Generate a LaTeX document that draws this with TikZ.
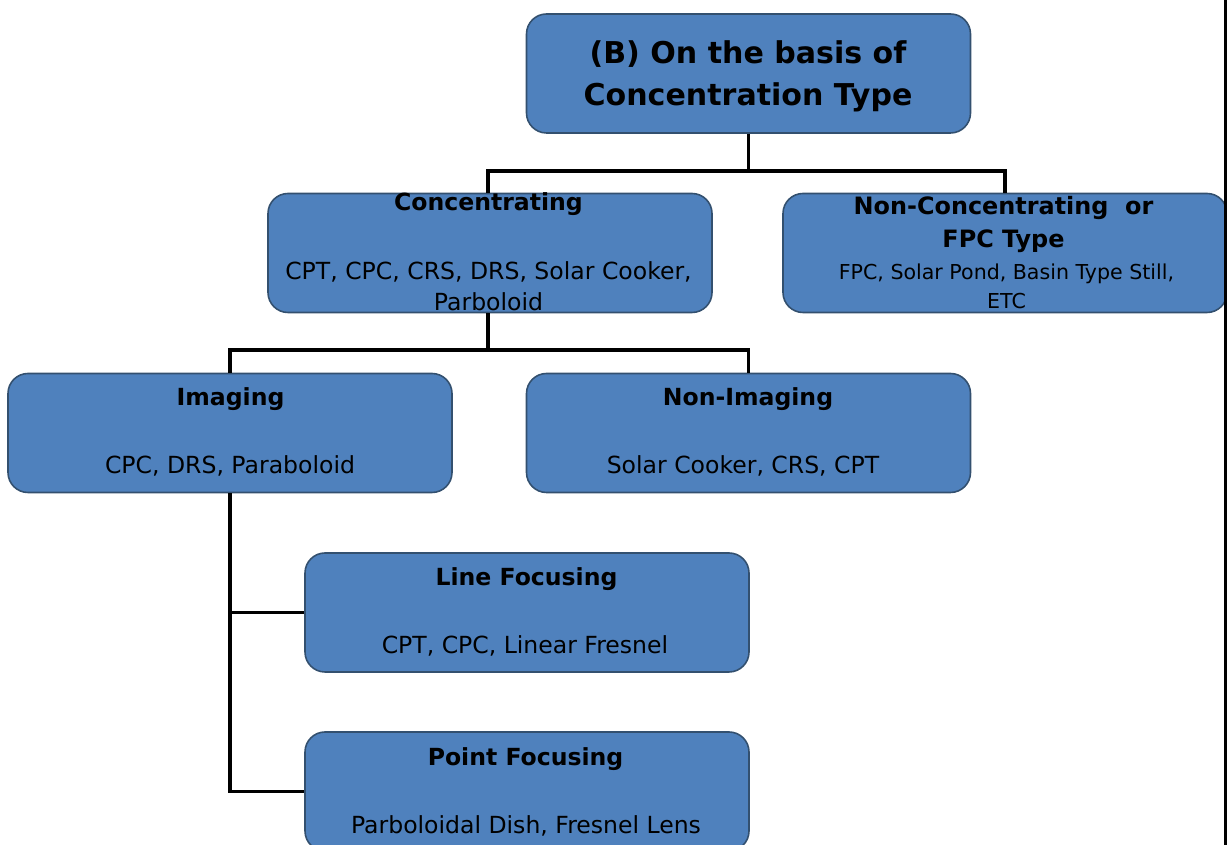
\documentclass[tikz,border=0pt]{standalone}
\usepackage{fontspec}
\setmainfont{DejaVu Sans}

\definecolor{boxblue}{HTML}{4F81BD}
\definecolor{boxedge}{HTML}{33506F}

\tikzset{
  catbox/.style={draw=boxedge, line width=0.9pt, fill=boxblue, rounded corners=0.4cm,
                 minimum width=8.88cm, minimum height=2.38cm, inner sep=0pt},
  head/.style={font=\fontsize{13.4}{18.7}\selectfont\bfseries, align=center, inner sep=0pt},
  body/.style={font=\fontsize{13.4}{17.6}\selectfont, align=center, inner sep=0pt},
  link/.style={line width=2.1pt}
}

\begin{document}
\begin{tikzpicture}
  \useasboundingbox (0,0) rectangle (24.54,16.9);
  \clip (0,0) rectangle (24.54,16.9);

  % boxes
  \node (top) at (14.97, 15.43) [catbox] {};
  \node (conc) at (9.80, 11.84) [catbox] {};
  \node (nonconc) at (20.10, 11.84) [catbox] {};
  \node (img) at (4.60, 8.24) [catbox] {};
  \node (nonimg) at (14.97, 8.24) [catbox] {};
  \node (line) at (10.54, 4.65) [catbox] {};
  \node (point) at (10.54, 1.07) [catbox] {};

  % connectors
  \draw[link] (top.south) -- ++(0,-0.74) coordinate (j1);
  \draw[link] (j1) -| ([xshift=-0.04cm]conc.north);
  \draw[link] (j1) -| (nonconc.north);
  \draw[link] ([xshift=-0.04cm]conc.south) -- ++(0,-0.74) coordinate (j2);
  \draw[link] (j2) -| (img.north);
  \draw[link] (j2) -| (nonimg.north);
  \draw[link] (img.south) |- (line.west);
  \draw[link] (img.south) |- (point.west);

  % frame edge
  \draw[line width=1.5pt] (24.51,0) -- (24.51,16.9);

  % texts
  \node (topT) at (14.96, 15.38) [font=\fontsize{17.1}{23.8}\selectfont\bfseries, align=center, inner sep=0pt]
    {(B) On the basis of\\Concentration Type};

  \node (concH) at (9.77, 12.82) [head] {Concentrating};
  \node (concB) at (9.77, 11.17) [body] {CPT, CPC, CRS, DRS, Solar Cooker,\\Parboloid};

  \node (nonconcH) at (20.07, 12.41) [head, font=\fontsize{13.6}{18.7}\selectfont\bfseries]
    {Non-Concentrating\ \ or\\FPC Type};
  \node (nonconcB) at (20.13, 11.17) [body, font=\fontsize{11.7}{16.4}\selectfont]
    {FPC, Solar Pond, Basin Type Still,\\ETC};

  \node (imgH) at (4.61, 8.92) [head] {Imaging};
  \node (imgB) at (4.60, 7.58) [body] {CPC, DRS, Paraboloid};

  \node (nonimgH) at (14.96, 8.92) [head] {Non-Imaging};
  \node (nonimgB) at (14.86, 7.58) [body] {Solar Cooker, CRS, CPT};

  \node (lineH) at (10.53, 5.32) [head] {Line Focusing};
  \node (lineB) at (10.50, 3.98) [body] {CPT, CPC, Linear Fresnel};

  \node (pointH) at (10.51, 1.72) [head] {Point Focusing};
  \node (pointB) at (10.52, 0.38) [body] {Parboloidal Dish, Fresnel Lens};
\end{tikzpicture}
\end{document}
